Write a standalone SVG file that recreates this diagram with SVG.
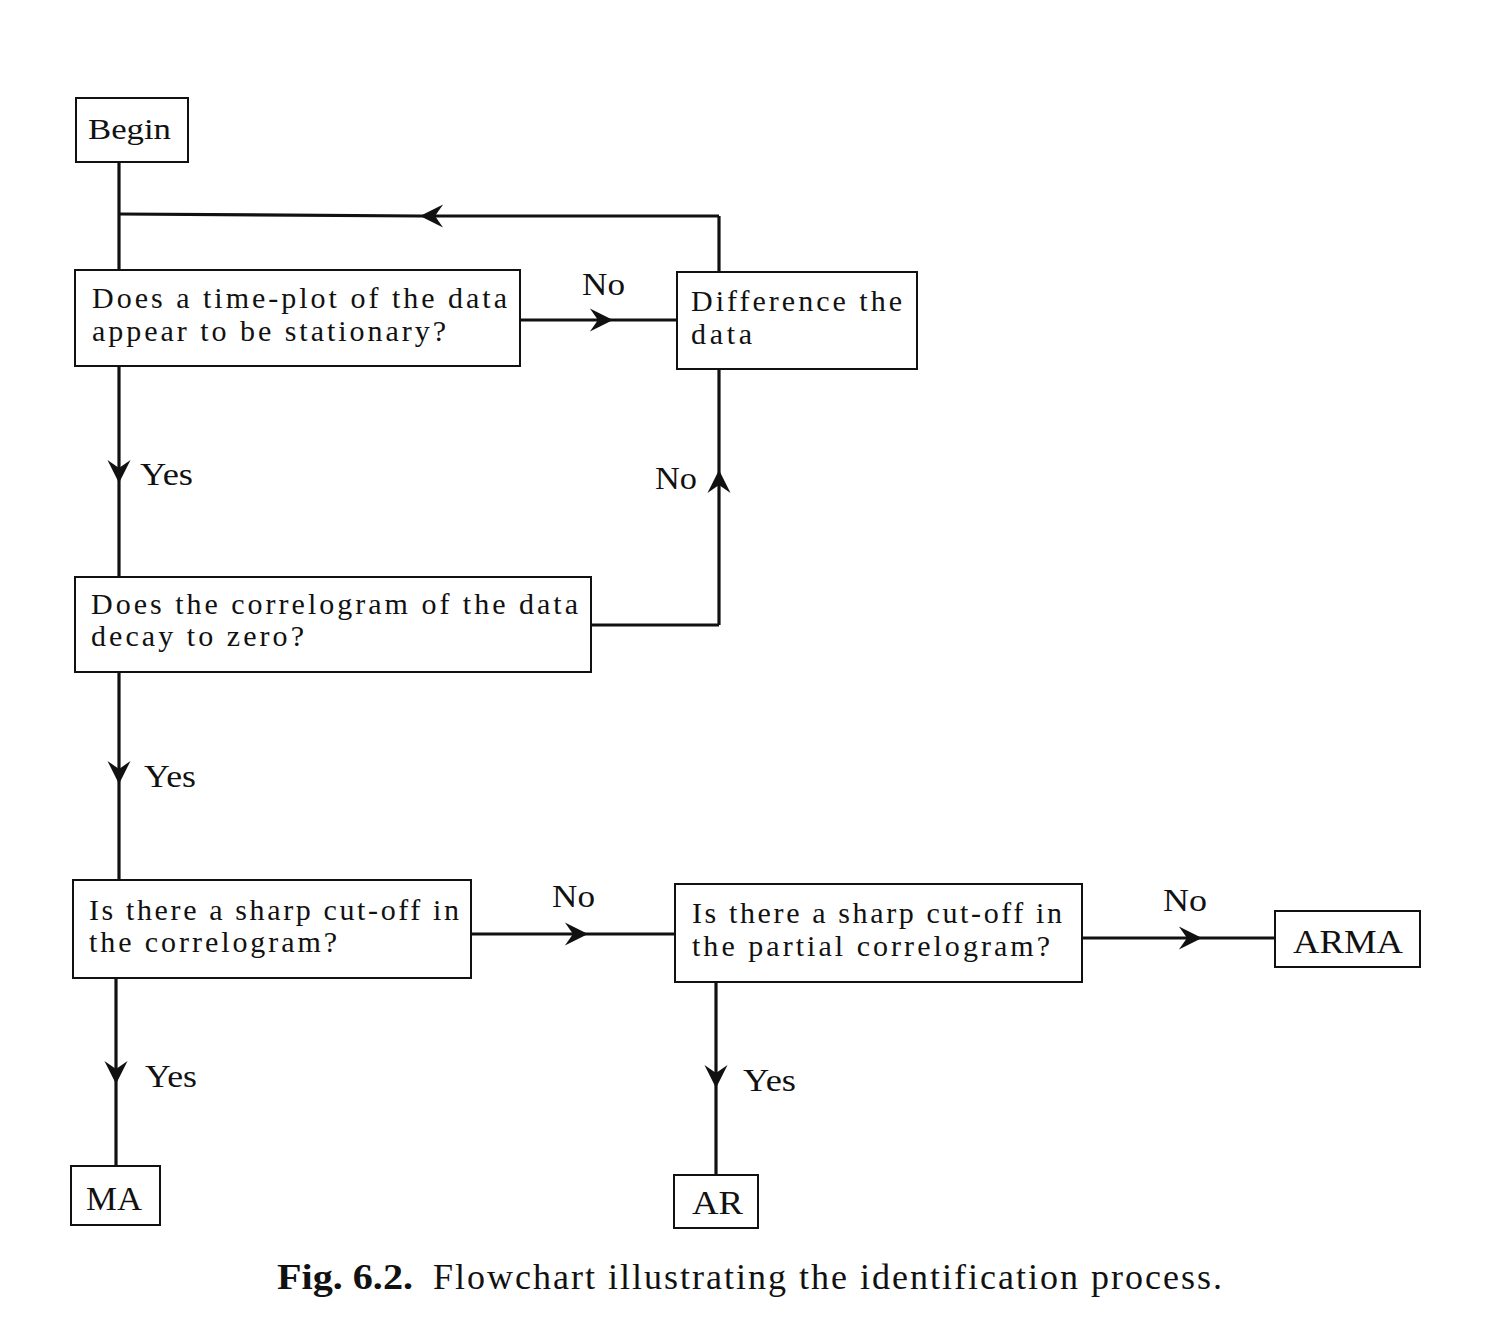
<svg xmlns="http://www.w3.org/2000/svg" width="1512" height="1330" viewBox="0 0 1512 1330">
<style>
.box{fill:#fff;stroke:#111;stroke-width:2}
.t{font-family:"Liberation Serif","Times New Roman",serif;font-size:30px;fill:#111}
.u{font-family:"Liberation Serif","Times New Roman",serif;font-size:34px;fill:#111}
.lbl{font-family:"Liberation Serif","Times New Roman",serif;font-size:31px;fill:#111}
.cap{font-family:"Liberation Serif","Times New Roman",serif;font-size:36px;fill:#111}
.c{fill:none;stroke:#111;stroke-width:3.2;marker-mid:url(#ah)}
.p{fill:none;stroke:#111;stroke-width:3.2}
</style>
<defs>
<marker id="ah" markerUnits="userSpaceOnUse" markerWidth="30" markerHeight="30" viewBox="-22 -12 26 24" refX="0" refY="0" orient="auto">
<path d="M0,0 L-20,-10 L-13,0 L-20,10 Z" fill="#111"/>
</marker>
</defs>
<rect width="1512" height="1330" fill="#fff"/>
<g id="connectors">
<path class="p" d="M119,162 L119,270"/>
<path class="p" d="M719,272 L719,216"/>
<path class="c" d="M719,216 L420,216 L119,214"/>
<path class="c" d="M520,320 L613,320 L677,320"/>
<path class="p" d="M591,625 L719,625"/>
<path class="c" d="M719,625 L719,470 L719,369"/>
<path class="c" d="M119,366 L119,483 L119,577"/>
<path class="c" d="M119,672 L119,784 L119,880"/>
<path class="c" d="M471,934 L588,934 L675,934"/>
<path class="c" d="M1082,938 L1202,938 L1275,938"/>
<path class="c" d="M116,978 L116,1084 L116,1166"/>
<path class="c" d="M716,982 L716,1088 L716,1175"/>
</g>
<g id="begin"><rect class="box" x="76" y="98" width="112" height="64"/><text class="t" x="88" y="139" font-size="32" textLength="83" lengthAdjust="spacingAndGlyphs">Begin</text></g>
<g id="q1"><rect class="box" x="75" y="270" width="445" height="96"/>
<text class="t" x="92" y="308" textLength="415" lengthAdjust="spacing">Does a time-plot of the data</text>
<text class="t" x="92" y="341" textLength="354" lengthAdjust="spacing">appear to be stationary?</text></g>
<g id="diff"><rect class="box" x="677" y="272" width="240" height="97"/>
<text class="t" x="691" y="311" textLength="211" lengthAdjust="spacing">Difference the</text>
<text class="t" x="691" y="344" textLength="61" lengthAdjust="spacing">data</text></g>
<g id="q2"><rect class="box" x="75" y="577" width="516" height="95"/>
<text class="t" x="91" y="614" textLength="487" lengthAdjust="spacing">Does the correlogram of the data</text>
<text class="t" x="91" y="646" textLength="213" lengthAdjust="spacing">decay to zero?</text></g>
<g id="q3"><rect class="box" x="73" y="880" width="398" height="98"/>
<text class="t" x="89" y="920" textLength="370" lengthAdjust="spacing">Is there a sharp cut-off in</text>
<text class="t" x="89" y="952" textLength="248" lengthAdjust="spacing">the correlogram?</text></g>
<g id="q4"><rect class="box" x="675" y="884" width="407" height="98"/>
<text class="t" x="692" y="923" textLength="370" lengthAdjust="spacing">Is there a sharp cut-off in</text>
<text class="t" x="692" y="956" textLength="358" lengthAdjust="spacing">the partial correlogram?</text></g>
<g id="arma"><rect class="box" x="1275" y="911" width="145" height="56"/><text class="u" x="1293" y="953" textLength="110" lengthAdjust="spacingAndGlyphs">ARMA</text></g>
<g id="ma"><rect class="box" x="71" y="1166" width="89" height="59"/><text class="u" x="86" y="1210" textLength="56" lengthAdjust="spacingAndGlyphs">MA</text></g>
<g id="ar"><rect class="box" x="674" y="1175" width="84" height="53"/><text class="u" x="692" y="1214" textLength="51" lengthAdjust="spacingAndGlyphs">AR</text></g>
<g id="labels">
<text class="lbl" x="582" y="295" textLength="43" lengthAdjust="spacingAndGlyphs">No</text>
<text class="lbl" x="655" y="489" textLength="42" lengthAdjust="spacingAndGlyphs">No</text>
<text class="lbl" x="140" y="485" textLength="53" lengthAdjust="spacingAndGlyphs">Yes</text>
<text class="lbl" x="144" y="787" textLength="52" lengthAdjust="spacingAndGlyphs">Yes</text>
<text class="lbl" x="552" y="907" textLength="43" lengthAdjust="spacingAndGlyphs">No</text>
<text class="lbl" x="1163" y="911" textLength="44" lengthAdjust="spacingAndGlyphs">No</text>
<text class="lbl" x="145" y="1087" textLength="52" lengthAdjust="spacingAndGlyphs">Yes</text>
<text class="lbl" x="743" y="1091" textLength="53" lengthAdjust="spacingAndGlyphs">Yes</text>
</g>
<g id="caption">
<text class="cap" x="277" y="1289" font-weight="bold" textLength="136" lengthAdjust="spacingAndGlyphs">Fig. 6.2.</text>
<text class="cap" x="433" y="1289" textLength="789" lengthAdjust="spacing">Flowchart illustrating the identification process.</text>
</g>
</svg>
